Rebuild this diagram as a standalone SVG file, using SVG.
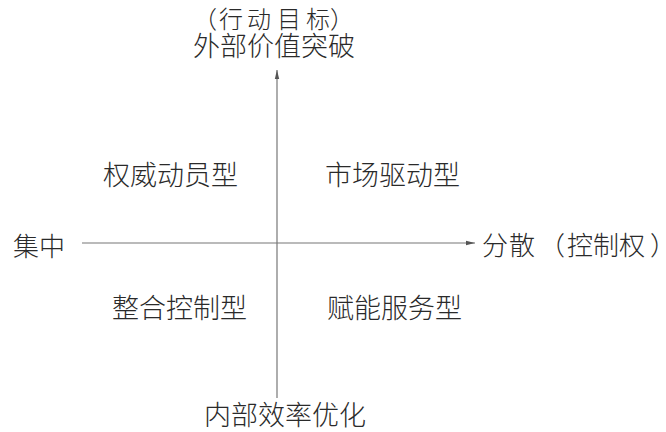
<svg xmlns="http://www.w3.org/2000/svg" width="666" height="432" viewBox="0 0 666 432">
<defs>
<style>
text{font-family:"Noto Sans CJK SC","Noto Sans CJK JP",sans-serif;fill:#2a2a2a;font-size:26px;font-weight:300;}
.q{font-size:27px;}
.axis{stroke:#777;stroke-width:1.2;fill:none;}
</style>
<marker id="ah" markerWidth="10" markerHeight="6" refX="9" refY="3" orient="auto" markerUnits="userSpaceOnUse">
<path d="M0,0.8 L9,3 L0,5.2 Z" fill="#555"/>
</marker>
</defs>
<rect width="666" height="432" fill="#fff"/>
<g id="connectors">
<line class="axis" x1="277" y1="398" x2="277" y2="70" marker-end="url(#ah)"/>
<line class="axis" x1="82" y1="243" x2="475" y2="243" marker-end="url(#ah)"/>
</g>
<g id="top-label">
<text x="193 219 247 277 306 330" y="28" style="font-size:24px">（行动目标）</text>
<text x="274" y="56" text-anchor="middle" style="font-size:27px">外部价值突破</text>
</g>
<g id="left-label"><text x="13" y="256">集中</text></g>
<g id="right-label"><text x="482 509 539 567 593 619 650" y="255">分散（控制权）</text></g>
<g id="bottom-label"><text x="285" y="425" text-anchor="middle" style="font-size:27px">内部效率优化</text></g>
<g id="q1"><text class="q" x="103" y="185">权威动员型</text></g>
<g id="q2"><text class="q" x="325" y="185">市场驱动型</text></g>
<g id="q3"><text class="q" x="112" y="318">整合控制型</text></g>
<g id="q4"><text class="q" x="327" y="318">赋能服务型</text></g>
</svg>
